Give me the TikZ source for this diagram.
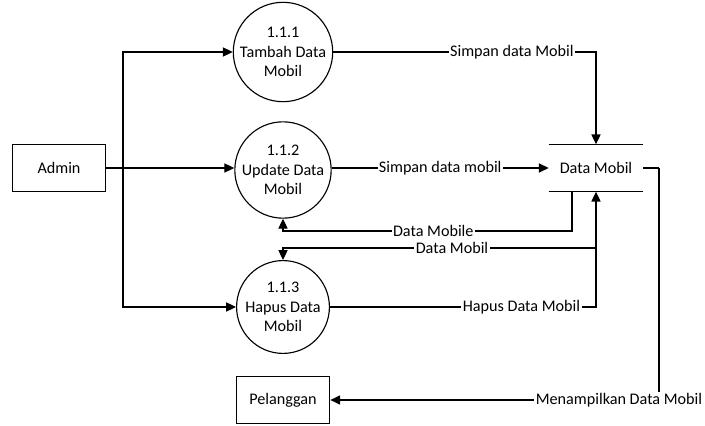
\documentclass[tikz,border=0pt]{standalone}
\usepackage{fontspec}
\setmainfont{Carlito}
\usetikzlibrary{arrows.meta}
\definecolor{background}{RGB}{255, 255, 255}
\definecolor{mainline}{HTML}{000000}
\tikzset{
  process/.style={circle,draw=mainline,line width=0.8pt,minimum size=2.32cm,inner sep=0pt,align=center,fill=background},
  entity/.style={rectangle,draw=mainline,line width=0.8pt,minimum width=2.34cm,minimum height=1.17cm,fill=background},
  storetext/.style={inner sep=0pt,minimum width=2.35cm,minimum height=1.17cm},
  flow/.style={-{Triangle[length=7pt,width=6.5pt]},line width=0.8pt,draw=mainline},
  plainline/.style={line width=0.8pt,draw=mainline},
  flowlabel/.style={fill=background,inner sep=1pt}
}

\begin{document}
\begin{tikzpicture}[x=0.025cm,y=-0.025cm,font=\fontsize{11.5}{14}\selectfont]
	% Boundary box
	\fill[background] (0,0) rectangle (705,426);

	% External entities
	\node[entity] (admin) at (59,168) {Admin};
	\node[entity] (pelanggan) at (283,400) {Pelanggan};

	% Processes
	\node[process] (tambah) at (283,52) {1.1.1\\Tambah Data\\Mobil};
	\node[process] (update) at (283,170) {1.1.2\\Update Data\\Mobil};
	\node[process] (hapus) at (283,307) {1.1.3\\Hapus Data\\Mobil};

	% Data store
	\node[storetext] (store) at (596,168) {Data Mobil};
	\draw[plainline] (store.north west) -- (store.north east);
	\draw[plainline] (store.south west) -- (store.south east);

	% Admin to processes
	\coordinate (split) at (123,168);
	\draw[flow] (admin.east) -- (update.west |- admin.east);
	\draw[flow] (split) -- (split |- tambah.west) -- (tambah.west);
	\draw[flow] (split) -- (split |- hapus.west) -- (hapus.west);

	% Processes to data store
	\draw[flow] (tambah.east) -- (store.north |- tambah.east)
		node[flowlabel,pos=0.68] {Simpan data Mobil} -- (store.north);
	\draw[flow] (update.east |- store.west) -- (store.west)
		node[flowlabel,midway] {Simpan data mobil};
	\draw[flow] (hapus.east) -- (store.south |- hapus.east)
		node[flowlabel,pos=0.72] {Hapus Data Mobil} -- (store.south);

	% Data store back to processes
	\coordinate (readout) at (572,192);
	\coordinate (readback) at (596,248);
	\draw[flow] (readout) -- (readout |- 0,231) -- (update.south |- 0,231)
		node[flowlabel,pos=0.48] {Data Mobile} -- (update.south);
	\draw[flow] (readback) -- (hapus.north |- readback)
		node[flowlabel,pos=0.46] {Data Mobil} -- (hapus.north);

	% Data store to Pelanggan
	\coordinate (showout) at (659,168);
	\draw[plainline] (store.east) -- (showout);
	\draw[flow] (showout) -- (showout |- pelanggan.east) -- (pelanggan.east);
	\node[flowlabel] (showlabel) at (619,400) {Menampilkan Data Mobil};
\end{tikzpicture}
\end{document}
